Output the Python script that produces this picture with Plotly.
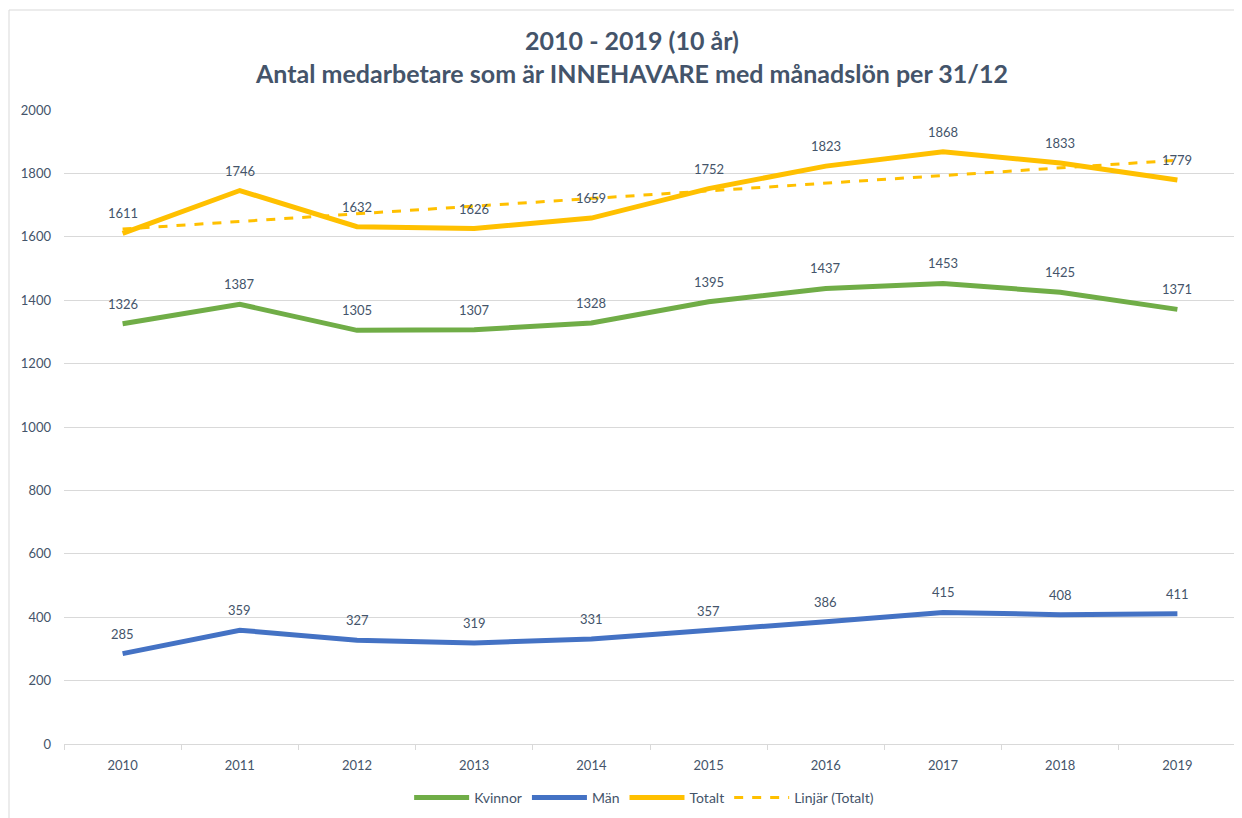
import numpy as np
import plotly.graph_objects as go

years = ["2010", "2011", "2012", "2013", "2014", "2015", "2016", "2017", "2018", "2019"]
kvinnor = [1326, 1387, 1305, 1307, 1328, 1395, 1437, 1453, 1425, 1371]
man = [285, 359, 327, 319, 331, 357, 386, 415, 408, 411]
totalt = [1611, 1746, 1632, 1626, 1659, 1752, 1823, 1868, 1833, 1779]

# Linear trendline (Excel "Linjär") fitted to Totalt
xi = np.arange(len(totalt))
slope, intercept = np.polyfit(xi, totalt, 1)
trend = list(intercept + slope * xi)

TXT = "#44546A"
FONT = "Lato, Open Sans, sans-serif"

# page body has an 8px margin: figure drawn at (8, 8)
W, H = 1234, 810

fig = go.Figure()
series = [("Kvinnor", kvinnor, "#70AD47"), ("Män", man, "#4472C4"), ("Totalt", totalt, "#FFC000")]
for name, vals, col in series:
    fig.add_trace(go.Scatter(x=years, y=vals, name=name, mode="lines",
                             line=dict(color=col, width=5)))
fig.add_trace(go.Scatter(x=years, y=trend, name="Linjär (Totalt)", mode="lines",
                         line=dict(color="#FFC000", width=3, dash="dash")))

annotations = []
for name, vals, col in series:
    for i, v in enumerate(vals):
        annotations.append(dict(x=i, y=v, xref="x", yref="y", text=str(v), showarrow=False,
                                yshift=20, font=dict(size=13, color=TXT, family=FONT)))

plot_h = 634
fig.update_layout(
    width=W, height=H,
    paper_bgcolor="white", plot_bgcolor="white",
    margin=dict(l=56, r=6, t=102, b=74, autoexpand=False),
    font=dict(family=FONT, color=TXT, size=13),
    title=dict(text="<b>2010 - 2019 (10 år)<br>Antal medarbetare som är INNEHAVARE med månadslön per 31/12</b>",
               x=(632 - 8) / W, xanchor="center", y=1 - (50 - 8) / H, yref="container",
               yanchor="middle", font=dict(size=25, color=TXT, family=FONT)),
    showlegend=True,
    legend=dict(orientation="h", x=0.495, xanchor="center", y=(744 - 798) / plot_h, yanchor="middle",
                font=dict(size=14, color=TXT, family=FONT), itemwidth=55,
                bgcolor="rgba(0,0,0,0)"),
    annotations=annotations,
    xaxis=dict(type="category", range=[-0.5, 9.5], showgrid=False,
               showline=True, linecolor="#D9D9D9", linewidth=1,
               ticks="outside", tickson="boundaries", ticklen=5, tickcolor="#D9D9D9",
               ticklabelstandoff=9,
               tickfont=dict(size=13, color=TXT), fixedrange=True),
    yaxis=dict(range=[0, 2000], dtick=200, showgrid=True, gridcolor="#D9D9D9", gridwidth=1,
               zeroline=False, showline=False, ticks="", ticklabelstandoff=12,
               tickfont=dict(size=13, color=TXT), fixedrange=True),
    shapes=[dict(type="rect", xref="paper", yref="paper",
                 x0=(9 - 64) / 1172, x1=(1240 - 64) / 1172,
                 y0=(744 - 830) / plot_h, y1=(744 - 10) / plot_h,
                 line=dict(color="#D9D9D9", width=1), layer="below")],
)

fig.write_html("out.html")
